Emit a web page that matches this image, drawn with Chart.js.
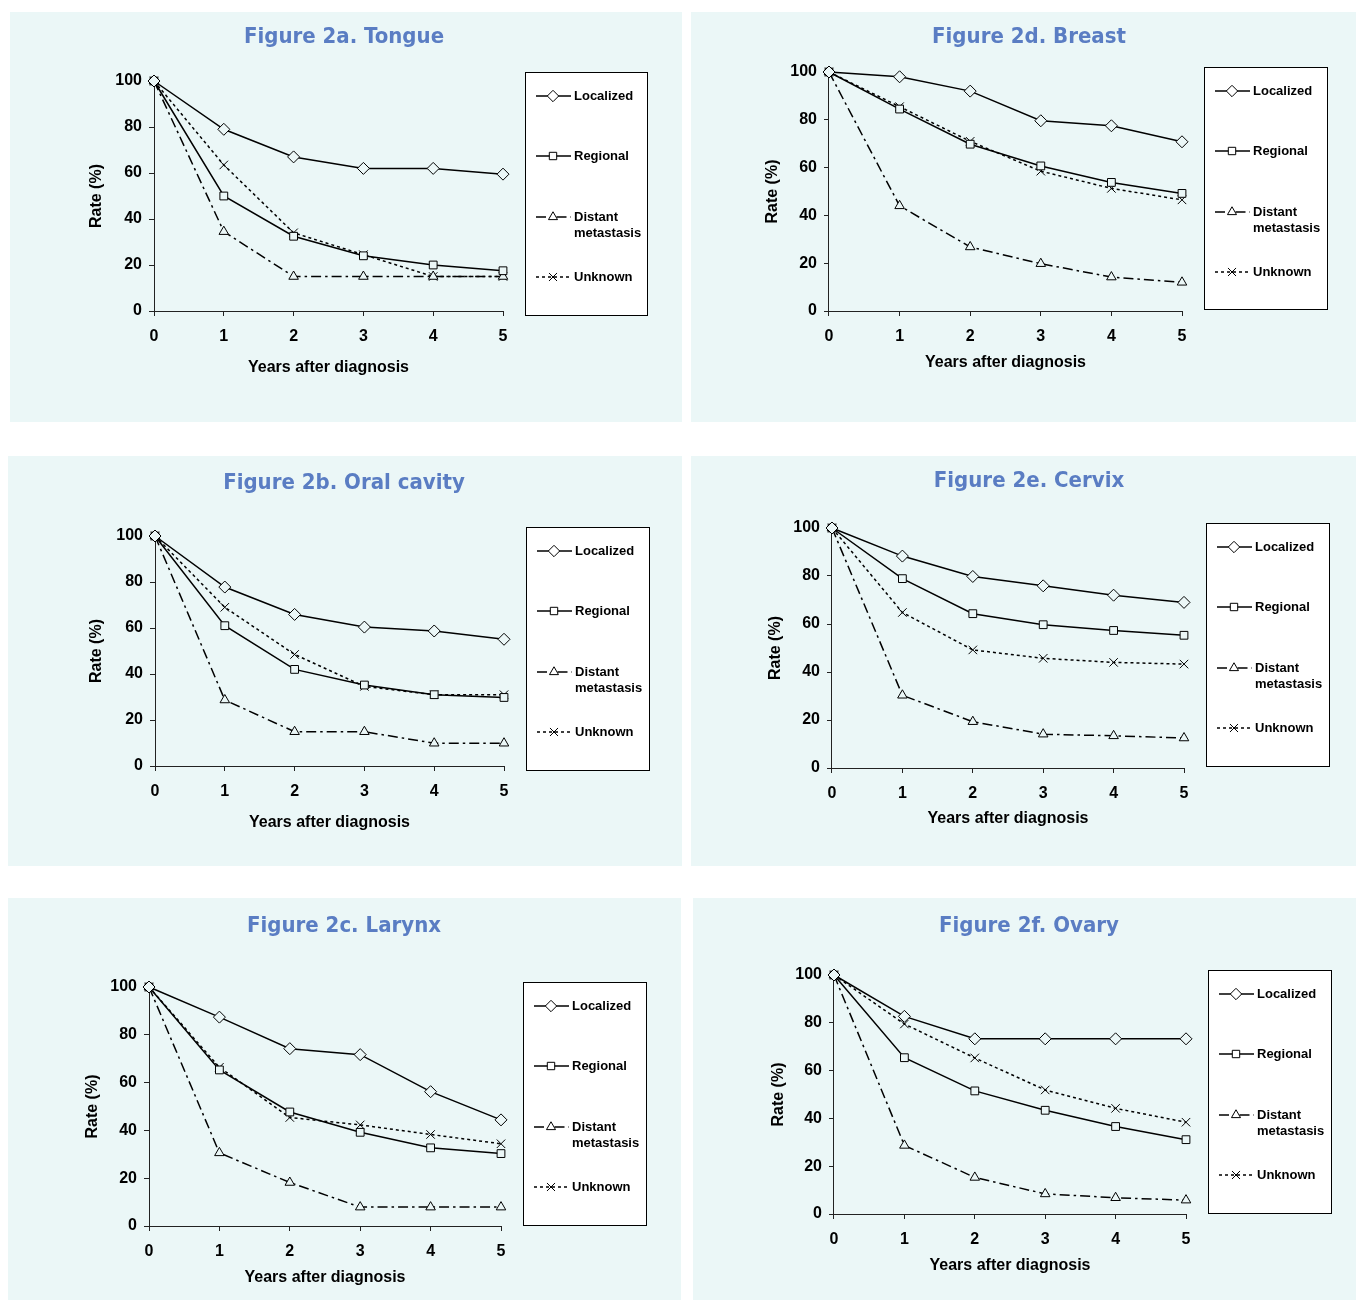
<!DOCTYPE html>
<html>
<head>
<meta charset="utf-8">
<script src="https://cdn.jsdelivr.net/npm/chart.js@4.4.1/dist/chart.umd.min.js"></script>
<style>
  body { margin: 0; background: #fff; }
  #page { position: relative; width: 1356px; height: 1300px; overflow: hidden; }
  .panel { position: absolute; background: #EBF7F7; }
  .panel canvas { position: absolute; left: 0; top: 0; }
  .title {
    position: absolute; width: 400px; text-align: center; line-height: 26px;
    font: bold 22px "DejaVu Sans Condensed", "DejaVu Sans", sans-serif; color: #5A7DC3;
  }
</style>
</head>
<body>
<div id="page"></div>
<script>
// survival rates (%), years 0..5
const years = [0, 1, 2, 3, 4, 5];
const yTicks = [0, 20, 40, 60, 80, 100];
const seriesNames = ['Localized', 'Regional', 'Distant metastasis', 'Unknown'];

const tongueLocalized = [100, 79, 67, 62, 62, 59.5];
const tongueRegional  = [100, 50, 32.5, 24, 20, 17.5];
const tongueDistant   = [100, 34.5, 15, 15, 15, 15];
const tongueUnknown   = [100, 63.5, 34, 24.5, 15, 15];

const breastLocalized = [100, 98, 92, 79.6, 77.5, 70.8];
const breastRegional  = [100, 84.5, 69.8, 60.7, 53.8, 49.2];
const breastDistant   = [100, 44, 26.8, 19.8, 14.2, 12];
const breastUnknown   = [100, 85.5, 71, 58.5, 51.3, 46.5];

const oralLocalized = [100, 77.8, 65.9, 60.4, 58.7, 55.1];
const oralRegional  = [100, 61, 42, 35.2, 31, 29.8];
const oralDistant   = [100, 28.7, 14.9, 14.9, 9.9, 9.9];
const oralUnknown   = [100, 69, 48.5, 34.6, 31, 31];

const cervixLocalized = [100, 88.3, 79.8, 75.9, 72, 69];
const cervixRegional  = [100, 78.9, 64.3, 59.7, 57.3, 55.3];
const cervixDistant   = [100, 30.3, 19.3, 14.1, 13.4, 12.5];
const cervixUnknown   = [100, 64.8, 49.2, 45.7, 44, 43.3];

const larynxLocalized = [100, 87.4, 74.2, 71.7, 56.2, 44.4];
const larynxRegional  = [100, 65.3, 47.7, 39.2, 32.7, 30.3];
const larynxDistant   = [100, 30.6, 18.2, 7.9, 7.9, 7.9];
const larynxUnknown   = [100, 66.4, 45.4, 42.3, 38.3, 34.4];

const ovaryLocalized = [100, 82.7, 73.3, 73.3, 73.3, 73.3];
const ovaryRegional  = [100, 65.4, 51.5, 43.4, 36.6, 31.1];
const ovaryDistant   = [100, 28.7, 15.3, 8.4, 6.8, 5.8];
const ovaryUnknown   = [100, 79.5, 65.3, 51.9, 44.2, 38.4];

// page geometry of each panel: box, plot (x0, x5, y100, y0), legend box, title centre
const panels = [
  { title: 'Figure 2a. Tongue', series: [tongueLocalized, tongueRegional, tongueDistant, tongueUnknown],
    box: [10, 12, 682, 422], plot: [154, 503, 81, 311], legend: [525, 72, 648, 316],
    titleAt: [344, 36], xTitleY: 366, yTitleX: 97 },
  { title: 'Figure 2d. Breast', series: [breastLocalized, breastRegional, breastDistant, breastUnknown],
    box: [691, 12, 1356, 422], plot: [829, 1182, 72, 311], legend: [1204, 67, 1328, 310],
    titleAt: [1029, 36], xTitleY: 361, yTitleX: 773 },
  { title: 'Figure 2b. Oral cavity', series: [oralLocalized, oralRegional, oralDistant, oralUnknown],
    box: [8, 456, 682, 866], plot: [155, 504, 536, 766], legend: [526, 527, 650, 771],
    titleAt: [344, 482], xTitleY: 821, yTitleX: 97 },
  { title: 'Figure 2e. Cervix', series: [cervixLocalized, cervixRegional, cervixDistant, cervixUnknown],
    box: [691, 456, 1356, 866], plot: [832, 1184, 528, 768], legend: [1206, 523, 1330, 767],
    titleAt: [1029, 480], xTitleY: 817, yTitleX: 776 },
  { title: 'Figure 2c. Larynx', series: [larynxLocalized, larynxRegional, larynxDistant, larynxUnknown],
    box: [8, 898, 681, 1300], plot: [149, 501, 987, 1226], legend: [523, 982, 647, 1226],
    titleAt: [344, 925], xTitleY: 1276, yTitleX: 93 },
  { title: 'Figure 2f. Ovary', series: [ovaryLocalized, ovaryRegional, ovaryDistant, ovaryUnknown],
    box: [693, 898, 1356, 1300], plot: [834, 1186, 975, 1214], legend: [1208, 970, 1332, 1214],
    titleAt: [1029, 925], xTitleY: 1264, yTitleX: 779 }
];

const seriesStyles = [
  { pointStyle: 'rectRot', pointRadius: 6, borderDash: [] },
  { pointStyle: 'rect', pointRadius: 5.5, borderDash: [] },
  { pointStyle: 'triangle', pointRadius: 5.5, borderDash: [10, 4, 2.5, 4] },
  { pointStyle: 'crossRot', pointRadius: 6, borderDash: [3, 3] }
];

const FONT = "'Liberation Sans', Arial, sans-serif";
const AXIS = '#222';
const BG = '#EBF7F7';
const legendRows = [24, 84, 145, 205];

Chart.defaults.font.family = FONT;

// boxed legend with line sample + marker, like the original spreadsheet legend
const boxLegend = {
  id: 'boxLegend',
  afterDraw(chart, args, opts) {
    const ctx = chart.ctx;
    const [l, t, r, b] = opts.rect;
    ctx.save();
    ctx.fillStyle = '#fff';
    ctx.fillRect(l, t, r - l, b - t);
    ctx.strokeStyle = '#000';
    ctx.lineWidth = 1;
    ctx.strokeRect(l + 0.5, t + 0.5, r - l - 1, b - t - 1);

    chart.data.datasets.forEach((ds, i) => {
      const y = t + legendRows[i];
      ctx.strokeStyle = ds.borderColor;
      ctx.lineWidth = ds.borderWidth;
      ctx.setLineDash(ds.borderDash);
      ctx.beginPath();
      ctx.moveTo(l + 11, y);
      ctx.lineTo(l + 46, y);
      ctx.stroke();
      ctx.setLineDash([]);

      ctx.fillStyle = '#fff';
      ctx.lineWidth = 1;
      Chart.helpers.drawPoint(ctx, { pointStyle: ds.pointStyle, radius: ds.pointRadius * 0.95, borderWidth: 1, rotation: 0 }, l + 28, y);

      ctx.fillStyle = '#000';
      ctx.font = 'bold 13px ' + FONT;
      ctx.textBaseline = 'middle';
      ctx.textAlign = 'left';
      const words = ds.label.split(' ');
      words.forEach((w, k) => ctx.fillText(w, l + 49, y + k * 16));
    });
    ctx.restore();
  }
};

const page = document.getElementById('page');

panels.forEach(p => {
  const [bl, bt, br, bb] = p.box;
  const w = br - bl, h = bb - bt;
  const [x0, x5, y100, y0] = p.plot;

  const div = document.createElement('div');
  div.className = 'panel';
  div.style.cssText = `left:${bl}px;top:${bt}px;width:${w}px;height:${h}px;`;
  const canvas = document.createElement('canvas');
  canvas.width = w;
  canvas.height = h;
  div.appendChild(canvas);
  const title = document.createElement('div');
  title.className = 'title';
  title.textContent = p.title;
  title.style.left = (p.titleAt[0] - bl - 200) + 'px';
  title.style.top = (p.titleAt[1] - bt - 13) + 'px';
  div.appendChild(title);
  page.appendChild(div);

  const xTitleSize = 16, yTitleSize = 16;
  const hx = (p.xTitleY - y0) + xTitleSize * 0.6 + 2;
  const wy = (x0 - p.yTitleX) + yTitleSize * 0.6;

  const datasets = p.series.map((vals, i) => ({
    label: seriesNames[i],
    data: years.map((x, k) => ({ x: x, y: vals[k] })),
    borderColor: '#000',
    borderWidth: 1.5,
    borderDash: seriesStyles[i].borderDash,
    pointStyle: seriesStyles[i].pointStyle,
    pointRadius: seriesStyles[i].pointRadius,
    pointBorderWidth: 1,
    pointBorderColor: '#000',
    pointBackgroundColor: BG,
    tension: 0,
    clip: false
  }));

  new Chart(canvas, {
    type: 'line',
    data: { datasets: datasets },
    options: {
      responsive: false,
      animation: false,
      devicePixelRatio: 1,
      layout: {
        padding: {
          left: x0 - wy - bl,
          top: y100 - bt,
          right: br - x5,
          bottom: bb - y0 - hx
        }
      },
      plugins: {
        legend: { display: false },
        tooltip: { enabled: false },
        boxLegend: { rect: [p.legend[0] - bl, p.legend[1] - bt, p.legend[2] - bl, p.legend[3] - bt] }
      },
      scales: {
        x: {
          type: 'linear', min: 0, max: 5,
          afterFit: s => { s.height = hx; },
          border: { color: AXIS, width: 1 },
          grid: { drawOnChartArea: false, drawTicks: true, tickLength: 5, color: AXIS },
          ticks: { stepSize: 1, padding: 11, color: '#000', font: { size: 16, weight: 'bold' } },
          title: { display: true, text: 'Years after diagnosis', color: '#000', padding: 0,
                   font: { size: xTitleSize, weight: 'bold' } }
        },
        y: {
          type: 'linear', min: yTicks[0], max: yTicks[yTicks.length - 1],
          afterFit: s => { s.width = wy; },
          afterBuildTicks: s => { s.ticks = yTicks.map(v => ({ value: v })); },
          border: { color: AXIS, width: 1 },
          grid: { drawOnChartArea: false, drawTicks: true, tickLength: 5, color: AXIS },
          ticks: { padding: 7, color: '#000', font: { size: 16, weight: 'bold' } },
          title: { display: true, text: 'Rate (%)', color: '#000', padding: 0,
                   font: { size: yTitleSize, weight: 'bold' } }
        }
      }
    },
    plugins: [boxLegend]
  });
});
</script>
</body>
</html>
